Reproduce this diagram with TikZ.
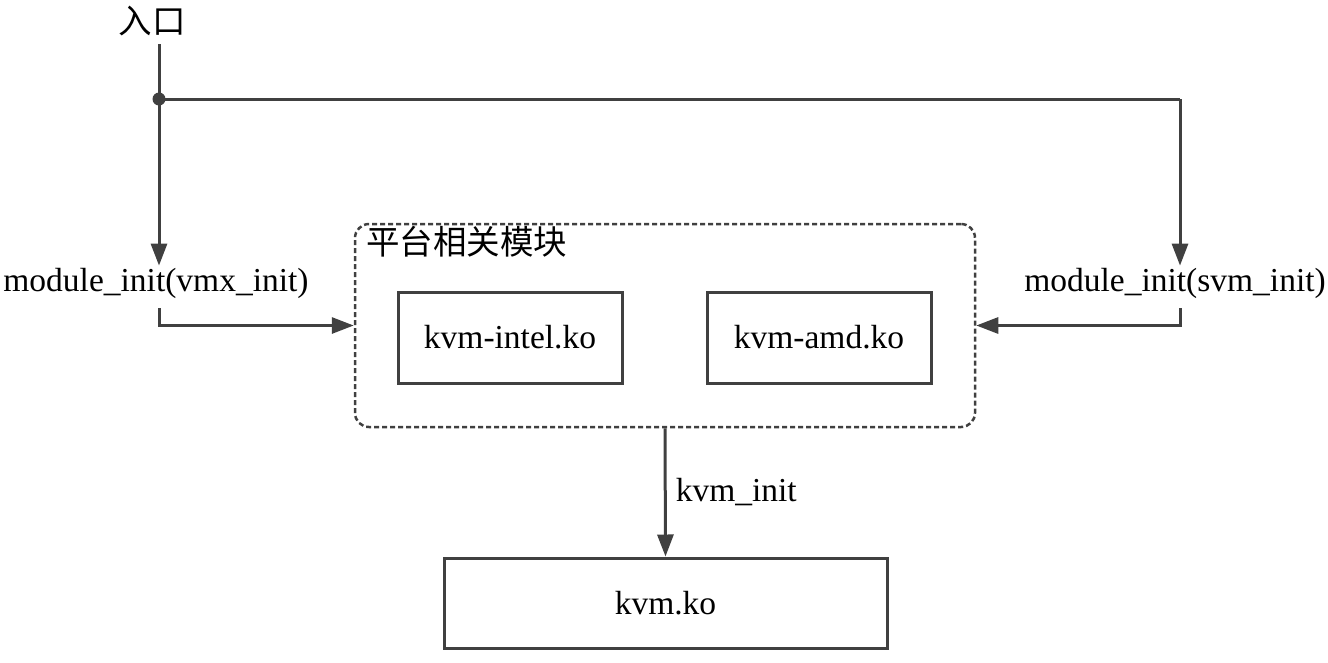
\documentclass[tikz,border=0pt]{standalone}
\usepackage{fontspec}
\setmainfont{Liberation Serif}
\newfontfamily\cjk{Noto Sans CJK SC}
\usetikzlibrary{arrows.meta,calc}
\definecolor{linegray}{HTML}{404040}
\newcommand{\bigfont}{\fontsize{33.5}{40}\selectfont}

\begin{document}
\begin{tikzpicture}[x=1pt,y=-1pt]
\tikzstyle{every node}=[font=\bigfont, inner sep=2pt]
\tikzstyle{modbox}=[rectangle, draw=linegray, line width=3pt, minimum width=224pt, minimum height=91pt]
\tikzstyle{platbox}=[rectangle, draw=linegray, line width=2.5pt, dash pattern=on 5pt off 3pt, rounded corners=14pt, minimum width=620pt, minimum height=203pt]
\tikzstyle{wire}=[draw=linegray, line width=3pt]
\tikzstyle{connect}=[wire, -{Triangle[length=22pt,width=16pt]}]

  \useasboundingbox (0,0) rectangle (1328,662);

  \node (entry) at (152,21) {\cjk 入口};
  \coordinate (dot) at (159,99);
  \coordinate (turn) at (1180,99);
  \node (vmx) at (156,283) {module\_init(vmx\_init)};
  \node (svm) at (1175,283) {module\_init(svm\_init)};

  \node[platbox] (plat) at (665,325.5) {};
  \node[anchor=north west, font=\bigfont\cjk] (plattitle) at (364,224) {平台相关模块};
  \node[modbox] (intel) at (510,337.5) {kvm-intel.ko};
  \node[modbox] (amd) at (819,337.5) {kvm-amd.ko};
  \node[modbox, minimum width=443pt, minimum height=90pt] (kvm) at (665.5,603) {kvm.ko};

  \draw[wire, shorten <=6pt] (entry.south -| dot) -- (dot) -- (turn);
  \fill[linegray] (dot) circle (6.5pt);
  \draw[connect] (dot) -- (dot |- vmx.north);
  \draw[connect] (turn) -- (turn |- svm.north);
  \draw[connect, shorten <=8pt] (vmx.south -| dot) |- (plat.west);
  \draw[connect, shorten <=8pt] (svm.south -| turn) |- (plat.east);
  \draw[connect] (plat.south) -- node[right, xshift=7pt] (kvminit) {kvm\_init} (kvm.north);

\end{tikzpicture}
\end{document}
